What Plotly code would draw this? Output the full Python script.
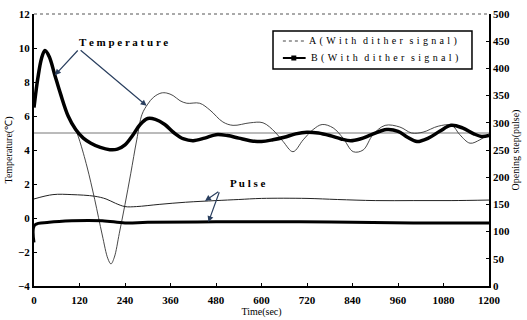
import plotly.graph_objects as go

# ---- data ----
time_B = [0, 10, 20, 29, 40, 55, 70, 90, 110, 130, 150, 175, 200, 220, 240, 260, 280, 300, 320, 345,
          370, 395, 420, 450, 480, 510, 540, 570, 600, 630, 660, 690, 720, 750, 780, 810, 835, 860,
          890, 930, 960, 985, 1010, 1040, 1070, 1100, 1130, 1160, 1180, 1200]
temp_B = [6.5, 8.2, 9.4, 9.85, 9.5, 8.4, 7.3, 6.0, 5.2, 4.7, 4.4, 4.15, 4.02, 4.05, 4.3, 4.85, 5.5, 5.85, 5.8, 5.5,
          5.0, 4.65, 4.55, 4.7, 4.9, 4.85, 4.7, 4.55, 4.5, 4.6, 4.75, 4.95, 5.05, 5.0, 4.85, 4.65, 4.55, 4.65,
          4.9, 5.2, 5.1, 4.75, 4.5, 4.7, 5.1, 5.45, 5.3, 4.95, 4.8, 4.85]

time_A = [0, 10, 20, 29, 40, 55, 70, 90, 100, 113, 121, 140, 160, 180, 195, 203, 212, 225, 240, 255,
          271, 285, 300, 315, 335, 350, 367, 385, 403, 437, 464, 498, 525, 570, 604, 636, 657, 683,
          710, 736, 760, 789, 815, 842, 868, 894, 926, 965, 996, 1026, 1066, 1102, 1123, 1150, 1176, 1200]
temp_A = [6.5, 8.2, 9.4, 9.85, 9.5, 8.4, 7.3, 6.0, 5.5, 5.0, 4.5, 3.0, 1.1, -1.0, -2.4, -2.7, -2.3, -0.9, 0.8, 2.6,
          4.6, 6.1, 6.7, 7.1, 7.35, 7.35, 7.2, 6.9, 6.75, 6.75, 6.35, 5.65, 5.45, 5.6, 5.6, 5.05, 4.5, 3.9,
          4.6, 5.2, 5.5, 5.3, 4.7, 3.9, 4.0, 4.9, 5.45, 5.35, 5.0, 5.05, 5.4, 5.45, 4.9, 4.4, 4.6, 4.95]

time_pA = [0, 50, 100, 160, 190, 215, 240, 270, 330, 400, 480, 540, 600, 720, 800, 900, 1000, 1100, 1200]
pulse_A = [160, 168, 168, 165, 160, 152, 146, 146, 150, 154, 157, 159, 161, 161, 159, 157, 157, 157, 158]

time_pB = [0, 2, 40, 100, 180, 240, 300, 480, 700, 840, 1000, 1200]
pulse_B = [80, 112, 117, 120, 120, 116, 117, 118, 118, 117, 116, 116]

setpoint_time = [0, 1200]
setpoint_temp = [5, 5]

x_ticks = [0, 120, 240, 360, 480, 600, 720, 840, 960, 1080, 1200]
SP = "\u2004"
legend_A = "A" + SP + "(" + SP + SP.join("With") + SP + SP + SP.join("dither") + SP + SP + SP.join("signal") + SP + ")"
legend_B = "B" + SP + "(" + SP + SP.join("With") + SP + SP + SP.join("dither") + SP + SP + SP.join("signal") + SP + ")"

FONT = "Liberation Serif"

fig = go.Figure()
fig.add_trace(go.Scatter(x=setpoint_time, y=setpoint_temp, mode="lines",
                         line=dict(color="#777", width=1), showlegend=False, hoverinfo="skip"))
fig.add_trace(go.Scatter(x=time_A, y=temp_A, mode="lines", line=dict(color="#333", width=0.9, shape="spline"),
                         showlegend=False))
fig.add_trace(go.Scatter(x=time_pA, y=pulse_A, yaxis="y2", mode="lines",
                         line=dict(color="#222", width=1, shape="spline"), showlegend=False))
fig.add_trace(go.Scatter(x=time_B, y=temp_B, mode="lines", line=dict(color="black", width=3.5, shape="spline"),
                         showlegend=False))
fig.add_trace(go.Scatter(x=time_pB, y=pulse_B, yaxis="y2", mode="lines",
                         line=dict(color="black", width=3, shape="spline"), showlegend=False))

tickfont = dict(family=FONT, size=11, color="black", weight="bold")
fig.update_layout(
    width=527, height=320,
    margin=dict(l=34, r=38, t=14, b=34),
    paper_bgcolor="white", plot_bgcolor="white",
    font=dict(family=FONT, color="black"),
    showlegend=False,
    xaxis=dict(range=[0, 1200], tickvals=x_ticks, ticks="inside", ticklen=3, tickcolor="black",
               showline=True, linecolor="black", linewidth=2, showgrid=False, zeroline=False,
               tickfont=tickfont, ticklabelstandoff=3, automargin=False,
               title=dict(text="Time(sec)", font=dict(family=FONT, size=10), standoff=3)),
    yaxis=dict(range=[-4, 12], dtick=2, ticks="inside", ticklen=3, tickcolor="black",
               showline=True, linecolor="black", linewidth=2, showgrid=False, zeroline=False,
               tickfont=tickfont, automargin=False,
               title=dict(text="Temperature(\u2103)", font=dict(family=FONT, size=10), standoff=4)),
    yaxis2=dict(range=[0, 500], dtick=50, overlaying="y", side="right", ticks="inside", ticklen=3,
                tickcolor="black", showline=True, linecolor="black", linewidth=1.5, showgrid=False,
                zeroline=False, tickfont=tickfont, automargin=False,
                title=dict(text="Opening step(pulse)", font=dict(family=FONT, size=10), standoff=2)),
)
# dotted top frame
fig.add_shape(type="line", xref="paper", yref="paper", x0=0, x1=1, y0=1, y1=1,
              line=dict(color="#555", width=1, dash="dot"))

# manual legend box
fig.add_shape(type="rect", xref="paper", yref="paper", x0=0.5253, x1=0.9626, y0=0.7978, y1=0.9375,
              line=dict(color="black", width=1.5), fillcolor="white", layer="above")
fig.add_shape(type="line", xref="paper", yref="paper", x0=0.547, x1=0.594, y0=0.9007, y1=0.9007,
              line=dict(color="#444", width=1, dash="dot"), layer="above")
fig.add_shape(type="line", xref="paper", yref="paper", x0=0.547, x1=0.597, y0=0.8382, y1=0.8382,
              line=dict(color="black", width=2), layer="above")
fig.add_shape(type="rect", xref="paper", yref="paper", x0=0.5655, x1=0.5765, y0=0.829, y1=0.8474,
              line=dict(color="black", width=0), fillcolor="black", layer="above")
leg_font = dict(family=FONT, size=10, color="black")
fig.add_annotation(xref="paper", yref="paper", x=0.600, y=0.9007, text=legend_A, showarrow=False,
                   xanchor="left", yanchor="middle", font=leg_font)
fig.add_annotation(xref="paper", yref="paper", x=0.604, y=0.8382, text=legend_B, showarrow=False,
                   xanchor="left", yanchor="middle", font=leg_font)

ann_font = dict(family=FONT, size=11, color="black", weight="bold")
fig.add_annotation(x=237, y=10.35, text="T e m p e r a t u r e", showarrow=False, font=ann_font)
fig.add_annotation(x=55, y=8.4, ax=119, ay=9.94, axref="x", ayref="y", text="", showarrow=True,
                   arrowhead=2, arrowsize=1, arrowwidth=1.2, standoff=0)
fig.add_annotation(x=297, y=6.6, ax=119, ay=9.94, axref="x", ayref="y", text="", showarrow=True,
                   arrowhead=2, arrowsize=1, arrowwidth=1.2, standoff=0)
fig.add_annotation(x=565, y=2.06, text="P u l s e", showarrow=False, font=ann_font)
fig.add_annotation(x=451, y=1.0, ax=490, ay=1.6, axref="x", ayref="y", text="", showarrow=True,
                   arrowhead=2, arrowsize=1, arrowwidth=1.2, standoff=0)
fig.add_annotation(x=460, y=-0.24, ax=490, ay=1.6, axref="x", ayref="y", text="", showarrow=True,
                   arrowhead=2, arrowsize=1, arrowwidth=1.2, standoff=0)

fig.write_html("out.html")
